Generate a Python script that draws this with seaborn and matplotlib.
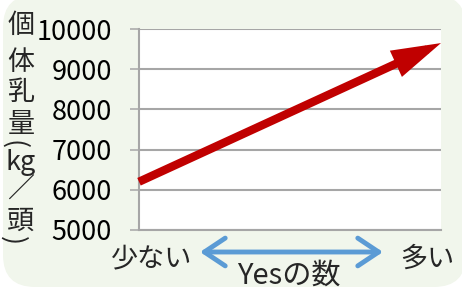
import matplotlib
matplotlib.use("Agg")
import matplotlib.pyplot as plt
import seaborn as sns
from matplotlib.patches import FancyBboxPatch

# data
x_pos = [0, 1]
milk_yield = [6200, 9650]
y_ticks = [5000, 6000, 7000, 8000, 9000, 10000]
x_left_label = "少ない"
x_right_label = "多い"
x_title = "Yesの数"
y_label_chars = ["個", "体", "乳", "量", "(", "kg", "／", "頭", ")"]

sns.set_theme(style="white")
plt.rcParams["font.family"] = ["Noto Sans CJK JP", "DejaVu Sans"]

W, H = 462, 289
fig = plt.figure(figsize=(W / 100, H / 100), dpi=100)
fig.patch.set_facecolor("white")

# rounded light green panel behind everything
bg = FancyBboxPatch((0.03, 0.02), 4.63, 2.92,
                    boxstyle="round,pad=0,rounding_size=0.32",
                    transform=fig.dpi_scale_trans, facecolor="#F1F6EC",
                    edgecolor="none", zorder=-10)
fig.patches.append(bg)

ax = fig.add_axes([139 / W, 1 - 230 / H, (441 - 139) / W, (230 - 29) / H])
ax.set_facecolor("white")
ax.set_xlim(0, 1)
ax.set_ylim(5000, 10000)
ax.set_yticks(y_ticks)
ax.set_xticks([])
ax.grid(axis="y", color="#A6A6A6", lw=1.5)
ax.set_axisbelow(True)
for s in ["top", "right"]:
    ax.spines[s].set_visible(False)
for s in ["left", "bottom"]:
    ax.spines[s].set_color("#A6A6A6")
    ax.spines[s].set_linewidth(1.5)
ax.tick_params(axis="y", length=6.5, width=1.1, color="#A6A6A6",
               labelsize=19.5, pad=13, labelcolor="black", left=True)

# red trend arrow
ax.annotate("", xy=(x_pos[1], milk_yield[1]), xytext=(x_pos[0], milk_yield[0]),
            xycoords="data", textcoords="data",
            arrowprops=dict(arrowstyle="-|>,head_length=1.1,head_width=0.32",
                            mutation_scale=20, lw=6, color="#C00000",
                            joinstyle="miter", capstyle="butt",
                            shrinkA=0, shrinkB=0))

# y label, stacked vertically (parentheses turned for vertical writing)
y_centers = [25, 62, 93, 124, 145, 163, 190, 221, 241]
for ch, yc in zip(y_label_chars, y_centers):
    if ch in "()":
        fig.text(13 / W, 1 - yc / H, ch, fontsize=19.5, ha="center",
                 va="center", rotation=-90)
    else:
        fig.text(21 / W, 1 - yc / H, ch, fontsize=19.5, ha="center", va="center")

# x labels and blue double arrow
fig.text(152 / W, 1 - 259 / H, x_left_label, fontsize=19.5, ha="center", va="center")
fig.text(427 / W, 1 - 259 / H, x_right_label, fontsize=19.5, ha="center", va="center")
fig.text(289 / W, 1 - 276 / H, x_title, fontsize=21, ha="center", va="center")
ax.annotate("", xy=(383, H - 252), xytext=(200, H - 252),
            xycoords="figure pixels", textcoords="figure pixels",
            arrowprops=dict(arrowstyle="<->,head_length=0.75,head_width=0.5",
                            mutation_scale=20, lw=3.5, color="#5B9BD5",
                            shrinkA=0, shrinkB=0))

fig.savefig("out.png", dpi=100)
